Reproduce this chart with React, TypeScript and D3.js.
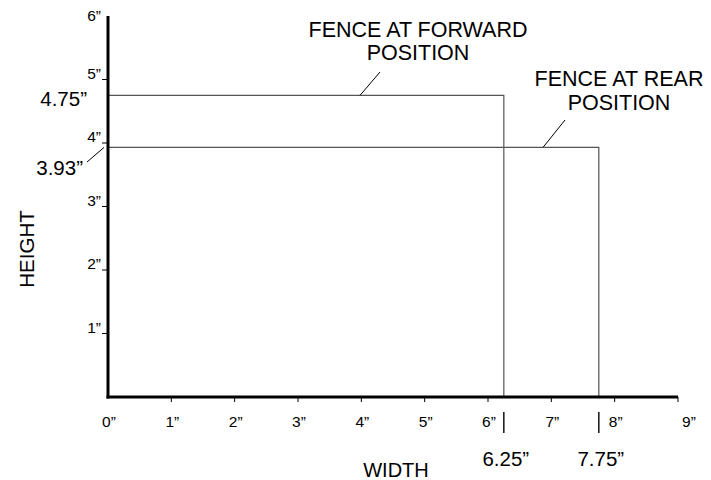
import React from "react";
import * as d3 from "d3";

const xTicks = [0, 1, 2, 3, 4, 5, 6, 7, 8, 9];
const yTicks = [1, 2, 3, 4, 5, 6];
const fenceNames = ["FORWARD", "REAR"];
const fenceWidths = [6.25, 7.75];
const fenceHeights = [4.75, 3.93];
const fenceLabelLines = [
  ["FENCE AT FORWARD", "POSITION"],
  ["FENCE AT REAR", "POSITION"],
];

const W = 711;
const H = 480;
const FONT = "'Liberation Sans', Arial, Helvetica, sans-serif";
const inch = (v: number) => `${v}\u201D`;

export default function App() {
  const x = d3.scaleLinear().domain([0, 9]).range([108, 678]);
  const y = d3.scaleLinear().domain([0, 6]).range([397, 16]);
  const x0 = x(0);
  const y0 = y(0);

  const annot = [
    { cx: 418, base: 37, gap: 23, lx1: 380, ly1: 72, lx2: 360 },
    { cx: 619, base: 86, gap: 24, lx1: 565, ly1: 120, lx2: 543 },
  ];
  const leftLabel = [
    { xr: 87, dy: 11, leader: null as null | number[] },
    { xr: 83, dy: 28, leader: [87, 162, 104] },
  ];

  return (
    <svg
      width={W}
      height={H}
      style={{ position: "absolute", left: 0, top: 0, background: "#fff" }}
      fontFamily={FONT}
    >
      <rect width={W} height={H} fill="#fff" />

      {fenceNames.map((n, i) => {
        const w = fenceWidths[i];
        const h = fenceHeights[i];
        const p = d3.path();
        p.moveTo(x0, y(h));
        p.lineTo(x(w), y(h));
        p.lineTo(x(w), y0);
        return (
          <path key={n} d={p.toString()} fill="none" stroke="#555" strokeWidth={1.2} />
        );
      })}

      <line x1={x0} y1={y(6)} x2={x0} y2={y0 + 1.5} stroke="#000" strokeWidth={3} />
      <line x1={x0 - 1.5} y1={y0} x2={x(9)} y2={y0} stroke="#000" strokeWidth={3} />

      {yTicks.map((v) => (
        <g key={"y" + v}>
          {v < 6 && (
            <line x1={x0 - 6} x2={x0} y1={y(v)} y2={y(v)} stroke="#000" strokeWidth={1} />
          )}
          <text
            x={101}
            y={Math.max(y(v) - 1, 21)}
            textAnchor="end"
            fontSize={15.5}
            fill="#000"
          >
            {inch(v)}
          </text>
        </g>
      ))}

      {xTicks.map((v, i) => (
        <g key={"x" + v}>
          {v > 0 && (
            <line x1={x(v)} x2={x(v)} y1={y0} y2={y0 + 5} stroke="#000" strokeWidth={1} />
          )}
          <text
            x={x(v) + (i === xTicks.length - 1 ? 11 : 1)}
            y={427}
            textAnchor="middle"
            fontSize={15.5}
            fill="#000"
          >
            {inch(v)}
          </text>
        </g>
      ))}

      {fenceWidths.map((w) => (
        <g key={"w" + w}>
          <line x1={x(w)} x2={x(w)} y1={412} y2={433} stroke="#000" strokeWidth={1.4} />
          <text x={x(w) + 2} y={466} textAnchor="middle" fontSize={20.5} fill="#000">
            {inch(w)}
          </text>
        </g>
      ))}

      {fenceHeights.map((h, i) => {
        const L = leftLabel[i];
        return (
          <g key={"h" + h}>
            <text x={L.xr} y={y(h) + L.dy} textAnchor="end" fontSize={20.5} fill="#000">
              {inch(h)}
            </text>
            {L.leader && (
              <line
                x1={L.leader[0]}
                y1={L.leader[1]}
                x2={L.leader[2]}
                y2={y(h)}
                stroke="#000"
                strokeWidth={1}
              />
            )}
          </g>
        );
      })}

      {fenceLabelLines.map((lines, i) => {
        const a = annot[i];
        return (
          <g key={"a" + i}>
            {lines.map((t, j) => (
              <text
                key={t}
                x={a.cx}
                y={a.base + j * a.gap}
                textAnchor="middle"
                fontSize={21.5}
                fill="#000"
              >
                {t}
              </text>
            ))}
            <line
              x1={a.lx1}
              y1={a.ly1}
              x2={a.lx2}
              y2={y(fenceHeights[i])}
              stroke="#000"
              strokeWidth={1}
            />
          </g>
        );
      })}

      <text x={396} y={477} textAnchor="middle" fontSize={20} fill="#000">
        WIDTH
      </text>
      <text
        transform="translate(34,249) rotate(-90)"
        textAnchor="middle"
        fontSize={20.5}
        fill="#000"
      >
        HEIGHT
      </text>
    </svg>
  );
}
